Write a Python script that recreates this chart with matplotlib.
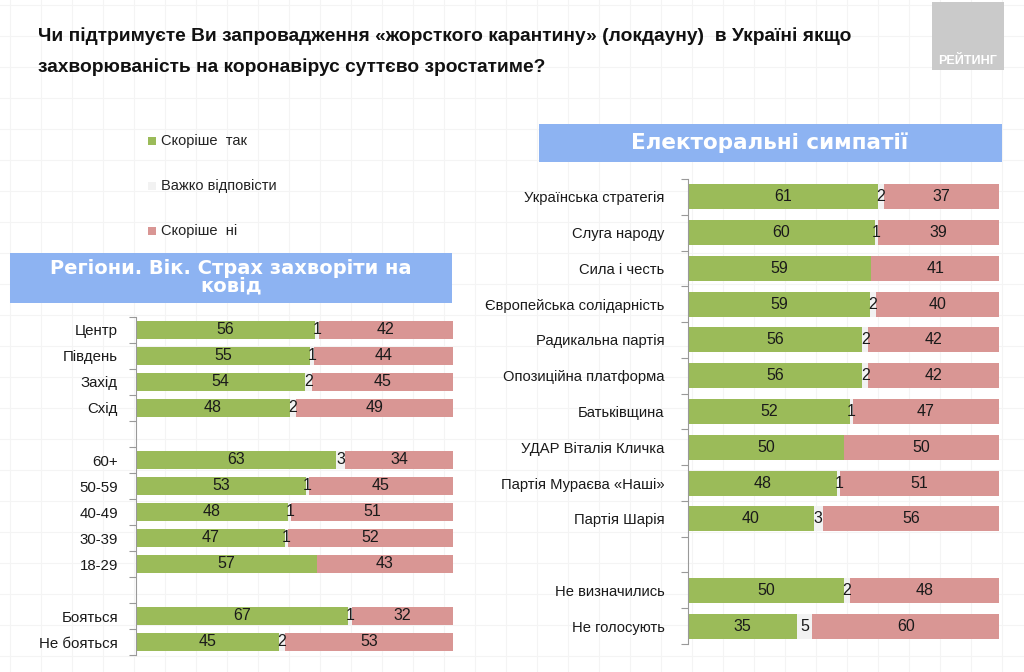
import numpy as np
import matplotlib
matplotlib.use('Agg')
import matplotlib.pyplot as plt
from matplotlib.patches import Rectangle

plt.rcParams['font.family'] = ['Liberation Sans', 'DejaVu Sans']

title = ('Чи підтримуєте Ви запровадження «жорсткого карантину» (локдауну)  в Україні якщо\n'
         'захворюваність на коронавірус суттєво зростатиме?')
legend_labels = ['Скоріше  так', 'Важко відповісти', 'Скоріше  ні']

# left panel: regions, age, fear of covid ('' = gap row)
left_labels = ['Центр', 'Південь', 'Захід', 'Схід', '',
               '60+', '50-59', '40-49', '30-39', '18-29', '',
               'Бояться', 'Не бояться']
left_yes = [56, 55, 54, 48, 0, 63, 53, 48, 47, 57, 0, 67, 45]
left_hard = [1, 1, 2, 2, 0, 3, 1, 1, 1, 0, 0, 1, 2]
left_no = [42, 44, 45, 49, 0, 34, 45, 51, 52, 43, 0, 32, 53]

# right panel: electoral sympathies
right_labels = ['Українська стратегія', 'Слуга народу', 'Сила і честь',
                'Європейська солідарність', 'Радикальна партія',
                'Опозиційна платформа', 'Батьківщина', 'УДАР Віталія Кличка',
                'Партія Мураєва «Наші»', 'Партія Шарія', '',
                'Не визначились', 'Не голосують']
right_yes = [61, 60, 59, 59, 56, 56, 52, 50, 48, 40, 0, 50, 35]
right_hard = [2, 1, 0, 2, 2, 2, 1, 0, 1, 3, 0, 2, 5]
right_no = [37, 39, 41, 40, 42, 42, 47, 50, 51, 56, 0, 48, 60]

GREEN = '#9bbb59'
GREY = '#f2f2f2'
PINK = '#d99694'
BLUE = '#8db3f2'

W, H = 1024, 672
fig = plt.figure(figsize=(W / 100, H / 100), dpi=100)
fig.patch.set_facecolor('white')


def px_axes(x0, y0, x1, y1):
    return fig.add_axes([x0 / W, 1 - y1 / H, (x1 - x0) / W, (y1 - y0) / H])


# faint background grid
bg = fig.add_axes([0, 0, 1, 1], zorder=-10)
bg.set_xlim(0, W)
bg.set_ylim(H, 0)
bg.set_axis_off()
for gx in np.arange(10, W, 31):
    bg.axvline(gx, color='#f4f4f4', lw=0.8, zorder=0)
for gy in np.arange(5, H, 31):
    bg.axhline(gy, color='#f4f4f4', lw=0.8, zorder=0)

# title
bg.text(38, 52, title, ha='left', va='center', fontsize=13.8, fontweight='bold',
        color='#111111', linespacing=1.95, zorder=3)

# logo block
bg.add_patch(Rectangle((932, 2), 72, 68, facecolor='#cacaca', edgecolor='none', zorder=2))
bg.text(968, 61, 'РЕЙТИНГ', ha='center', va='center', fontsize=9, fontweight='bold',
        color='white', zorder=3)

# legend
for (lbl, col, ly) in zip(legend_labels, [GREEN, GREY, PINK], [141, 186, 231]):
    bg.add_patch(Rectangle((148, ly - 4), 8, 8, facecolor=col, edgecolor='none', zorder=2))
    bg.text(161, ly, lbl, ha='left', va='center', fontsize=10.5, color='#222222', zorder=3)

# header bars
bg.add_patch(Rectangle((10, 253), 442, 50, facecolor=BLUE, edgecolor='none', zorder=2))
bg.text(231, 277, 'Регіони. Вік. Страх захворіти на\nковід', ha='center', va='center',
        fontsize=14, fontweight='bold', color='white', linespacing=0.9,
        family=['DejaVu Sans'], zorder=3)
bg.add_patch(Rectangle((539, 124), 463, 38, facecolor=BLUE, edgecolor='none', zorder=2))
bg.text(770, 143, 'Електоральні симпатії', ha='center', va='center',
        fontsize=15.5, fontweight='bold', color='white', family=['DejaVu Sans'], zorder=3)


def draw_panel(ax, labels, yes, hard, no, fs, vfs, pad):
    yes = np.array(yes, float)
    hard = np.array(hard, float)
    no = np.array(no, float)
    tot = yes + hard + no
    tot[tot == 0] = 1
    ys = yes / tot * 100
    hs = hard / tot * 100
    ns = no / tot * 100
    pos = np.arange(len(labels))
    ax.barh(pos, ys, height=0.7, color=GREEN)
    ax.barh(pos, hs, left=ys, height=0.7, color=GREY)
    ax.barh(pos, ns, left=ys + hs, height=0.7, color=PINK)
    for i, lbl in enumerate(labels):
        if not lbl:
            continue
        ax.text(ys[i] / 2, i, str(int(yes[i])), ha='center', va='center', fontsize=vfs, color='#1a1a1a')
        if hard[i] > 0:
            ax.text(ys[i] + hs[i] / 2, i, str(int(hard[i])), ha='center', va='center', fontsize=vfs, color='#1a1a1a')
        ax.text(ys[i] + hs[i] + ns[i] / 2, i, str(int(no[i])), ha='center', va='center', fontsize=vfs, color='#1a1a1a')
    ax.set_xlim(0, 100)
    ax.set_ylim(len(labels) - 0.5, -0.5)
    ax.set_yticks(pos)
    ax.set_yticklabels(labels, fontsize=fs, color='#1a1a1a')
    ax.set_yticks(np.arange(len(labels) + 1) - 0.5, minor=True)
    ax.tick_params(axis='y', which='major', length=0, pad=pad)
    ax.tick_params(axis='y', which='minor', length=5, color='#999999', width=0.8)
    ax.set_xticks([])
    for s in ['top', 'right', 'bottom']:
        ax.spines[s].set_visible(False)
    ax.spines['left'].set_color('#999999')
    ax.spines['left'].set_linewidth(0.8)
    ax.patch.set_alpha(0)


axl = px_axes(136, 317, 453, 655)
draw_panel(axl, left_labels, left_yes, left_hard, left_no, 10.8, 11.5, 13)

axr = px_axes(688, 179, 999, 644)
draw_panel(axr, right_labels, right_yes, right_hard, right_no, 10.6, 11.5, 17)

fig.savefig('out.png', dpi=100)
